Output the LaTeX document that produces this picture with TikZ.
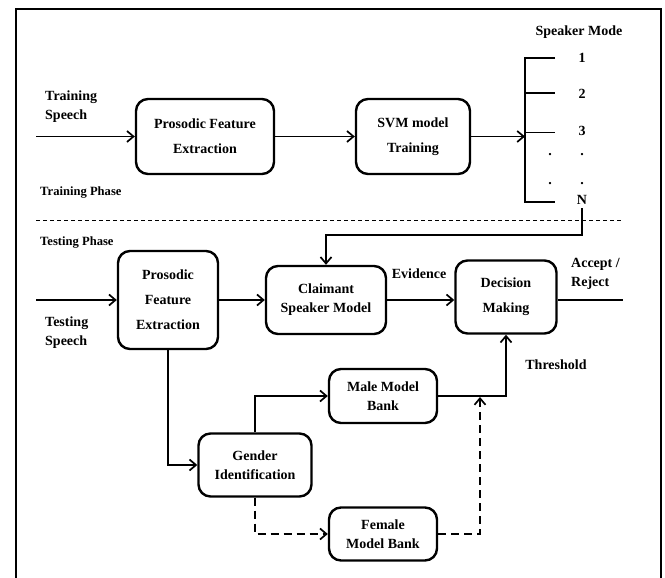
\documentclass[tikz,border=0pt]{standalone}
\usepackage{fontspec}
\setmainfont{Liberation Serif}
\usetikzlibrary{arrows.meta}

\begin{document}
\begin{tikzpicture}[x=1pt, y=-1pt, align=center,
    font=\bfseries\fontsize{14}{19}\selectfont,
    >={Straight Barb[length=6.5pt,width=11pt]},
    block/.style={draw, line width=2.4pt, rounded corners=12pt, inner sep=2pt},
    tall/.style={font=\bfseries\fontsize{14}{25}\selectfont},
    flow/.style={line width=1.7pt},
    dashflow/.style={line width=1.7pt, dash pattern=on 8pt off 5pt},
    tag/.style={anchor=west, align=left, inner sep=0pt},
    phase/.style={font=\bfseries\fontsize{12.6}{14}\selectfont, anchor=west, inner sep=0pt}]

    % Frame round the figure
    \useasboundingbox (0,0) rectangle (665,578);
    \draw[line width=2pt] (16,578) -- (16,9) -- (661,9) -- (661,578);

    % Training phase blocks
    \node[block, tall, minimum width=138pt, minimum height=75pt] (prosTrain) at (205,136.5) {Prosodic Feature\\Extraction};
    \node[block, tall, minimum width=114pt, minimum height=75pt] (svmTrain) at (413,136.5) {SVM model\\Training};
    \node[tag] (trSpeech) at (45,107) {Training\\Speech};
    \coordinate (trIn) at (36,136.5);
    \coordinate (bracket) at (525,136.5);

    % Speaker model bracket
    \draw[flow] (555,58) -- (525,58) -- (525,202) -- (555,202);
    \draw[flow] (525,93) -- (555,93);
    \draw[flow] (525,132.5) -- (555,132.5);
    \node (spkTitle) at (579,32) {Speaker Mode};
    \node (spkOne) at (582,58) {1};
    \node (spkTwo) at (582,94) {2};
    \node (spkThree) at (582,131) {3};
    \node[anchor=base] (dotA) at (550,155.5) {.};
    \node[anchor=base] (dotB) at (582,155.5) {.};
    \node[anchor=base] (dotC) at (550,184.5) {.};
    \node[anchor=base] (dotD) at (582,184.5) {.};
    \node (spkN) at (582,200) {N};

    % Training arrows
    \draw[flow,->] (trIn) -- (prosTrain);
    \draw[flow,->] (prosTrain) -- (svmTrain);
    \draw[flow,->] (svmTrain) -- (bracket);

    % Phase labels and divider
    \node[phase] (trPhase) at (40,193) {Training Phase};
    \draw[line width=0.8pt, dash pattern=on 4pt off 3pt] (36,220) -- (622,220);
    \node[phase] (tePhase) at (40,243) {Testing Phase};

    % Testing phase blocks
    \node[block, tall, minimum width=100pt, minimum height=98pt] (prosTest) at (168,300) {Prosodic\\Feature\\Extraction};
    \node[block, minimum width=120pt, minimum height=68pt] (claim) at (326,300) {Claimant\\Speaker Model};
    \node[block, tall, minimum width=101pt, minimum height=73pt] (decide) at (506,297) {Decision\\Making};
    \node[block, minimum width=108pt, minimum height=54pt] (maleBank) at (383,396) {Male Model\\Bank};
    \node[block, minimum width=113pt, minimum height=63pt] (gender) at (255,465) {Gender\\Identification};
    \node[block, minimum width=108pt, minimum height=53pt] (femaleBank) at (383,534) {Female\\Model Bank};

    % Labels
    \node[tag] (teSpeech) at (45,333) {Testing\\Speech};
    \node (evid) at (419,274) {Evidence};
    \node[tag] (verdict) at (571,274) {Accept /\\Reject};
    \node (thresh) at (556,365) {Threshold};
    \coordinate (teIn) at (36,300);
    \coordinate (teOut) at (623,300);
    \coordinate (bankJoin) at (480,397);

    % Testing arrows
    \draw[flow,->] (teIn) -- (prosTest);
    \draw[flow,->] (prosTest) -- (claim);
    \draw[flow,->] (claim.east) -- (claim.east -| decide.west);
    \draw[flow] (decide.east |- teOut) -- (teOut);
    \draw[flow,->] (spkN.south) -- ++(0,27) -| (claim.north);
    \draw[flow,->] (prosTest.south) |- (gender.west);
    \draw[flow,->] (gender.north) |- (maleBank.west);
    \draw[flow,->] (maleBank.east) -| (decide.south);
    \draw[dashflow,->] (gender.south) |- (femaleBank.west);
    \draw[dashflow,->] (femaleBank.east) -| (bankJoin);
\end{tikzpicture}
\end{document}
